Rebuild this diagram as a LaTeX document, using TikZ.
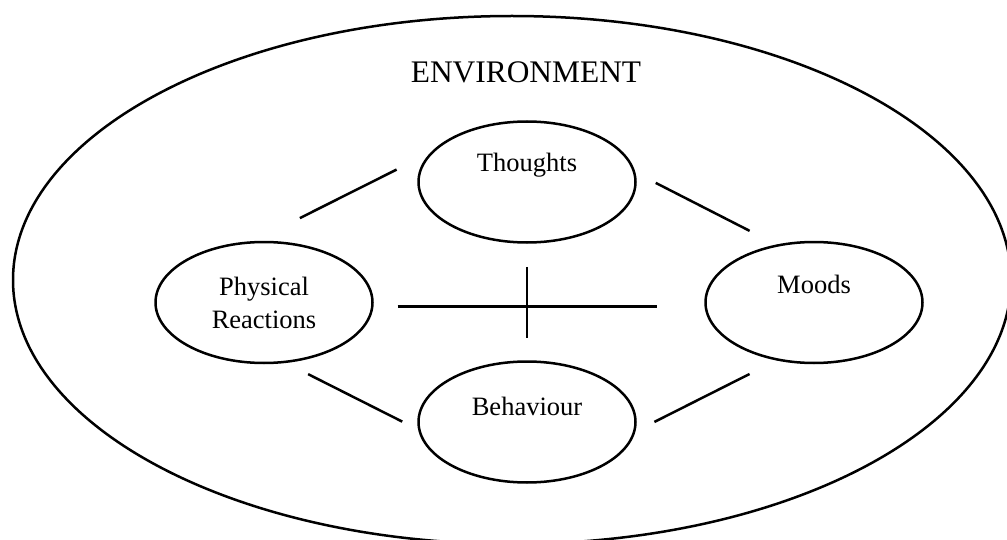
\documentclass[tikz,border=0pt]{standalone}
\usepackage{fontspec}
\setmainfont{Liberation Serif}
\usepackage{tikz}
\usetikzlibrary{shapes.geometric}

\begin{document}
\begin{tikzpicture}
[x=0.5pt,y=-0.5pt,line width=1.25pt,font=\fontsize{13.25}{16.5}\selectfont]\tikzstyle{area}
=[ellipse,fill=none,draw=black,text=black,inner sep=0pt,minimum width=108.5pt,minimum height=60.5pt,align=center]
\useasboundingbox (0,0) rectangle (1007,540);
\node[draw,ellipse,inner sep=0pt,minimum width=499pt,minimum height=264pt] (env) at (512,280) {};
\node[font=\fontsize{15.7}{18}\selectfont] (envname) at (526,72.5) {ENVIRONMENT};
\node[area,text depth=20pt] (thoughts) at (527,182) {Thoughts};
\node[area] (phys) at (264,302.5) {Physical\\Reactions};
\node[area,text depth=18pt] (moods) at (814,302.5) {Moods};
\node[area,text depth=16pt] (behav) at (527,422) {Behaviour};

\path
(phys.99) edge [shorten <=25.5pt, shorten >=19pt] (thoughts.163)

(thoughts.5) edge [shorten <=11.4pt, shorten >=15pt] (moods.123)

(phys.290.5) edge [shorten <=12.4pt, shorten >=8.9pt] (behav.184)

(behav.355.5) edge [shorten <=10.6pt, shorten >=15pt] (moods.237)

(phys.-2.5) edge [shorten <=12pt, shorten >=23.7pt] (moods.182.5)

(thoughts.south) edge [shorten <=11.5pt, shorten >=11pt] (behav.north)
;\end{tikzpicture}
\end{document}
